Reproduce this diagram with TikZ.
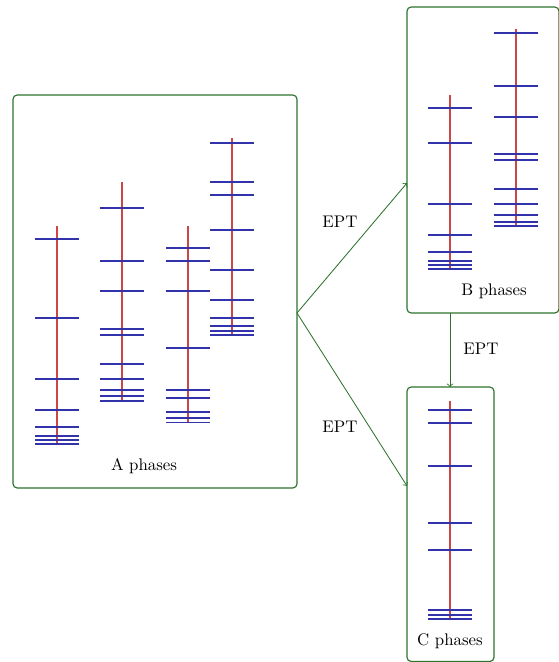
\documentclass[tikz,border=0pt]{standalone}
\usepackage{amsmath}
\usepackage{tikz}
\usetikzlibrary{fit}

\definecolor{boxgreen}{RGB}{45,115,45}
\definecolor{levelred}{RGB}{205,70,70}
\definecolor{levelblue}{RGB}{50,50,170}

\tikzset{
  phasebox/.style={draw=boxgreen,line width=0.7pt,rounded corners=2.5pt,inner sep=0pt},
  conn/.style={draw=boxgreen,line width=0.5pt,->},
  spine/.style={levelred,line width=1.2pt},
  level/.style={levelblue,line width=0.75pt}
}

% ladder: x, top, bottom, list of level heights
\newcommand{\ladder}[4]{
  \draw[spine] (#1,#2) -- (#1,#3);
  \foreach \y in {#4}
    \draw[level] (#1-22,\y) -- (#1+22,\y);
}

\begin{document}
\begin{tikzpicture}[x=0.595pt,y=-0.595pt]
            \useasboundingbox (0,0) rectangle (559,662);
            % boxes
            \node[phasebox,fit={(13,95) (297,488)}] (A) {};
            \node[phasebox,fit={(407,7) (559,313)}] (B) {};
            \node[phasebox,fit={(407,387) (494,661.5)}] (C) {};
            % A levels
            \ladder{57}{226}{444}{239,318,379,410,427,436,440,444}
            \ladder{122}{182}{401}{208,261,291,329,335,364,379,390,396,401}
            \ladder{188}{226}{422.5}{248,261,291,348,390,398,412,418,422.5}
            \ladder{232}{138}{335}{143,182,195,230,270,300,318,326,331,335}
            % B levels
            \ladder{450}{95}{269}{108,143,204,235,252,261,265,269}
            \ladder{516}{29}{226}{33,86,117,154,160,189,204,215,222,226}
            % C levels
            \ladder{450}{401}{619}{410,423,466,523,550,610,615,619}
            % labels
            \node (alabel) at (144,466) {A phases};
            \node (blabel) at (494,291) {B phases};
            \node (clabel) at (450,641) {C phases};
            % connectors
            \coordinate (aout) at (297,313);
            \coordinate (bin) at (407,183);
            \coordinate (cin) at (407,486);
            \coordinate (bout) at (450,313);
            \coordinate (ctop) at (450,387);
            \draw[conn] (aout) -- (bin);
            \draw[conn] (aout) -- (cin);
            \draw[conn] (bout) -- (ctop);
            \node (ept1) at (340,222) {EPT};
            \node (ept2) at (340,427) {EPT};
            \node (ept3) at (481,349) {EPT};
        \end{tikzpicture}
\end{document}
